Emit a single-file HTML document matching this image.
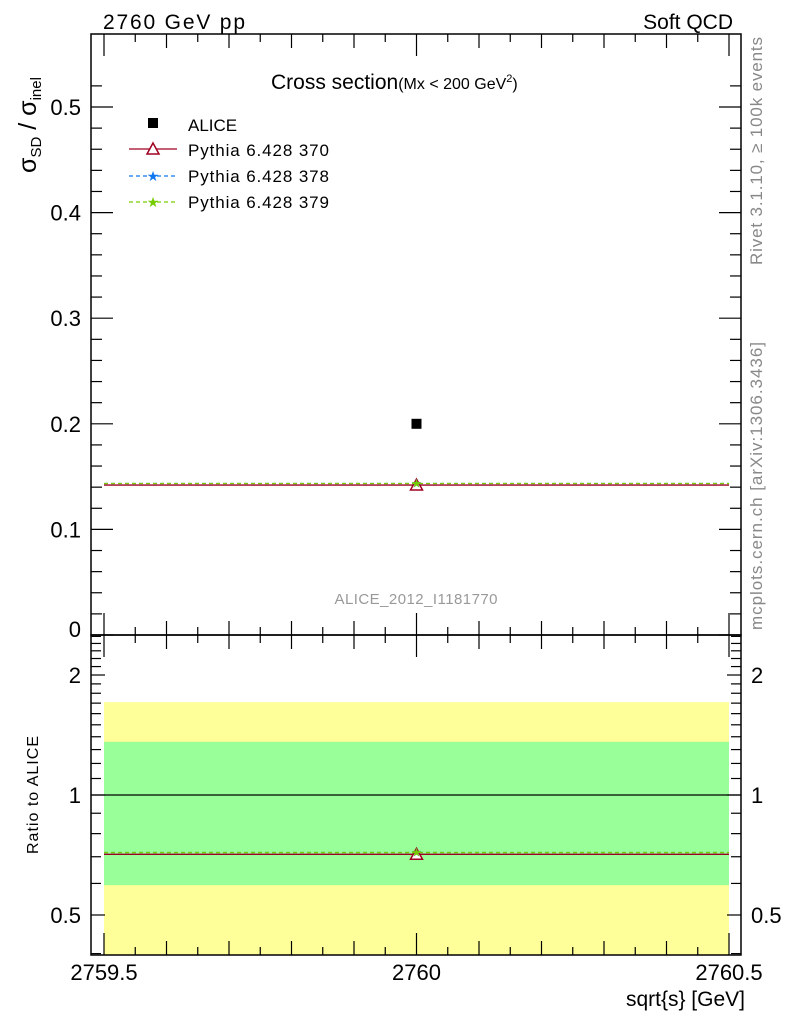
<!DOCTYPE html>
<html><head><meta charset="utf-8"><style>
html,body{margin:0;padding:0;background:#fff;width:786px;height:1024px;overflow:hidden}
svg{display:block;font-family:"Liberation Sans",sans-serif}
</style></head><body>
<svg id="chart" width="786" height="1024" viewBox="0 0 786 1024">
<text x="103" y="29" font-size="21" textLength="142">2760 GeV pp</text>
<text x="733" y="29" font-size="21" text-anchor="end">Soft QCD</text>
<text x="271" y="89" font-size="21">Cross section<tspan font-size="16">(Mx &lt; 200 GeV</tspan><tspan font-size="11" dy="-7">2</tspan><tspan font-size="16" dy="7">)</tspan></text>
<g id="bands"></g>
<g id="marks"></g>
<g id="axes"></g>
<text transform="translate(36,125) rotate(-90)" font-size="25" text-anchor="middle">σ<tspan font-size="15" dy="5">SD</tspan><tspan dy="-5"> / σ</tspan><tspan font-size="15" dy="5">inel</tspan></text>
<text transform="translate(38,795) rotate(-90)" font-size="16" text-anchor="middle" textLength="118">Ratio to ALICE</text>
<text x="745" y="1006" font-size="21" text-anchor="end">sqrt{s} [GeV]</text>
<text transform="translate(762,151) rotate(-90)" font-size="17" fill="#888" text-anchor="middle" textLength="228">Rivet 3.1.10, ≥ 100k events</text>
<text transform="translate(762,486) rotate(-90)" font-size="17" fill="#888" text-anchor="middle" textLength="288">mcplots.cern.ch [arXiv:1306.3436]</text>
<text x="416" y="604" font-size="15" fill="#999" text-anchor="middle" textLength="163">ALICE_2012_I1181770</text>
<g>
<rect x="148" y="118" width="10" height="10" fill="#000"/>
<text x="188" y="131" font-size="17">ALICE</text>
<line x1="129" y1="149" x2="177" y2="149" stroke="#a00020" stroke-width="1.3"/>
<path d="M153,143 L159,154 L147,154 Z" fill="#fff" stroke="#a00020" stroke-width="1.5"/>
<text x="188" y="156" font-size="17" textLength="141">Pythia 6.428 370</text>
<line x1="129" y1="176" x2="177" y2="176" stroke="#1177ee" stroke-width="1.2" stroke-dasharray="4,3"/>
<text x="153" y="181" font-size="14" fill="#1177ee" text-anchor="middle">★</text>
<text x="188" y="182" font-size="17" textLength="141">Pythia 6.428 378</text>
<line x1="129" y1="202" x2="177" y2="202" stroke="#77cc00" stroke-width="1.2" stroke-dasharray="4,3"/>
<text x="153" y="207" font-size="14" fill="#77cc00" text-anchor="middle">★</text>
<text x="188" y="208" font-size="17" textLength="141">Pythia 6.428 379</text>
</g>
</svg>
<script>
const xEdges=[2759.5,2760.5];
const xCenter=[2760];
const dataVal=[0.2];
const dataErr=[0.0];
const mc370=[0.142];
const mc378=[0.1435];
const mc379=[0.1435];
const bandInner=[0.594,1.36];
const bandOuter=[0.3,1.71];
const mainTicks=[0.1,0.2,0.3,0.4,0.5];
const mainTickLabels=["0.1","0.2","0.3","0.4","0.5"];
const ratioTicks=[0.5,1,2];
const ratioTickLabels=["0.5","1","2"];
const xTickLabels=["2759.5","2760","2760.5"];
const xTickVals=[2759.5,2760,2760.5];

const L=91,R=741,T=34,M=635,B=955;
const NS='http://www.w3.org/2000/svg';
function X(v){return 104+(v-2759.5)*625;}
function Y(v){return M-v*1056;}
function YR(v){return 795-Math.log10(v)*398.6;}
function mk(tag,a,parent){const e=document.createElementNS(NS,tag);for(const k in a)e.setAttribute(k,a[k]);(parent||document.getElementById('chart')).appendChild(e);return e;}
const bands=document.getElementById('bands'),marks=document.getElementById('marks'),axes=document.getElementById('axes');
const x0=X(xEdges[0]),x1=X(xEdges[1]);
let yo1=Math.min(B,YR(bandOuter[0])),yo2=YR(bandOuter[1]);
let e=mk('rect',{x:x0,y:yo2,width:x1-x0,height:yo1-yo2,fill:'#ffff99'},bands);


e=mk('rect',{x:x0,y:YR(bandInner[1]),width:x1-x0,height:YR(bandInner[0])-YR(bandInner[1]),fill:'#99ff99'},bands);


e=mk('line',{x1:L,x2:R,y1:YR(1),y2:YR(1),stroke:'#000','stroke-width':1.2},marks);


function series(vals,col,dash,ratio,name){
  vals.forEach((v,i)=>{
    const y=ratio?YR(v/dataVal[i]):Y(v);
    const l=mk('line',{x1:x0,x2:x1,y1:y,y2:y,stroke:col,'stroke-width':1.3},marks);
    if(dash)l.setAttribute('stroke-dasharray','4,3');
    
    
    const cx=X(xCenter[i]);
    let m;
    if(!dash){m=mk('path',{d:`M${cx},${y-6} L${cx+6},${y+5} L${cx-6},${y+5} Z`,fill:'#fff',stroke:col,'stroke-width':1.5},marks);}
    else{m=mk('text',{x:cx,y:y+4,'font-size':12,fill:col,'text-anchor':'middle'},marks);m.textContent='★';}
    
    
  });
}
[false,true].forEach(r=>{
  series(mc370,'#a00020',false,r,r?'ratio-pythia-370':'pythia-370');
  series(mc378,'#1177ee',true,r,r?'ratio-pythia-378':'pythia-378');
  series(mc379,'#77cc00',true,r,r?'ratio-pythia-379':'pythia-379');
});
dataVal.forEach((v,i)=>{
  const p=mk('rect',{x:X(xCenter[i])-5,y:Y(v)-5,width:10,height:10,fill:'#000'},marks);
  
  
});
mk('rect',{x:L,y:T,width:R-L,height:M-T,fill:'none',stroke:'#000','stroke-width':1.5},axes);
mk('rect',{x:L,y:M,width:R-L,height:B-M,fill:'none',stroke:'#000','stroke-width':1.5},axes);
for(let v=0;v<=0.54;v+=0.02){const y=Y(v);const maj=Math.abs(v*10-Math.round(v*10))<1e-6;const len=maj?22:11;
  mk('line',{x1:L,x2:L+len,y1:y,y2:y,stroke:'#000','stroke-width':1.2},axes);
  mk('line',{x1:R,x2:R-len,y1:y,y2:y,stroke:'#000','stroke-width':1.2},axes);}
mainTicks.forEach((v,i)=>{const t=mk('text',{x:81,y:Y(v)+8,'font-size':22,'text-anchor':'end'},axes);t.textContent=mainTickLabels[i];
  
  });
const z=mk('text',{x:81,y:M+2,'font-size':22,'text-anchor':'end'},axes);z.textContent='0';
for(let v=0.4;v<2.55;v+=0.1){const y=YR(v);if(y<M||y>B)continue;const maj=ratioTicks.some(t=>Math.abs(t-v)<1e-6);const len=maj?14:10;
  mk('line',{x1:L,x2:L+len,y1:y,y2:y,stroke:'#000','stroke-width':1.2},axes);
  mk('line',{x1:R,x2:R-len,y1:y,y2:y,stroke:'#000','stroke-width':1.2},axes);}
ratioTicks.forEach((v,i)=>{[[81,'end'],[751,'start']].forEach(([x,a])=>{const t=mk('text',{x:x,y:YR(v)+8,'font-size':22,'text-anchor':a},axes);t.textContent=ratioTickLabels[i];
  
  });});
for(let k=0;k<=20;k++){const v=2759.5+k*0.05;const x=X(v);const maj=k%2==0;const big=k%10==0;const len=big?22:(maj?14:8);
  [T,M,B].forEach((yb,j)=>{const dir=j==0?1:-1;mk('line',{x1:x,x2:x,y1:yb,y2:yb+dir*len,stroke:'#000','stroke-width':1.2},axes);
    if(j==1)mk('line',{x1:x,x2:x,y1:M,y2:M+len,stroke:'#000','stroke-width':1.2},axes);});}
xTickVals.forEach((v,i)=>{const t=mk('text',{x:X(v),y:980,'font-size':22,'text-anchor':'middle'},axes);t.textContent=xTickLabels[i];
  
  });
</script>
</body></html>
